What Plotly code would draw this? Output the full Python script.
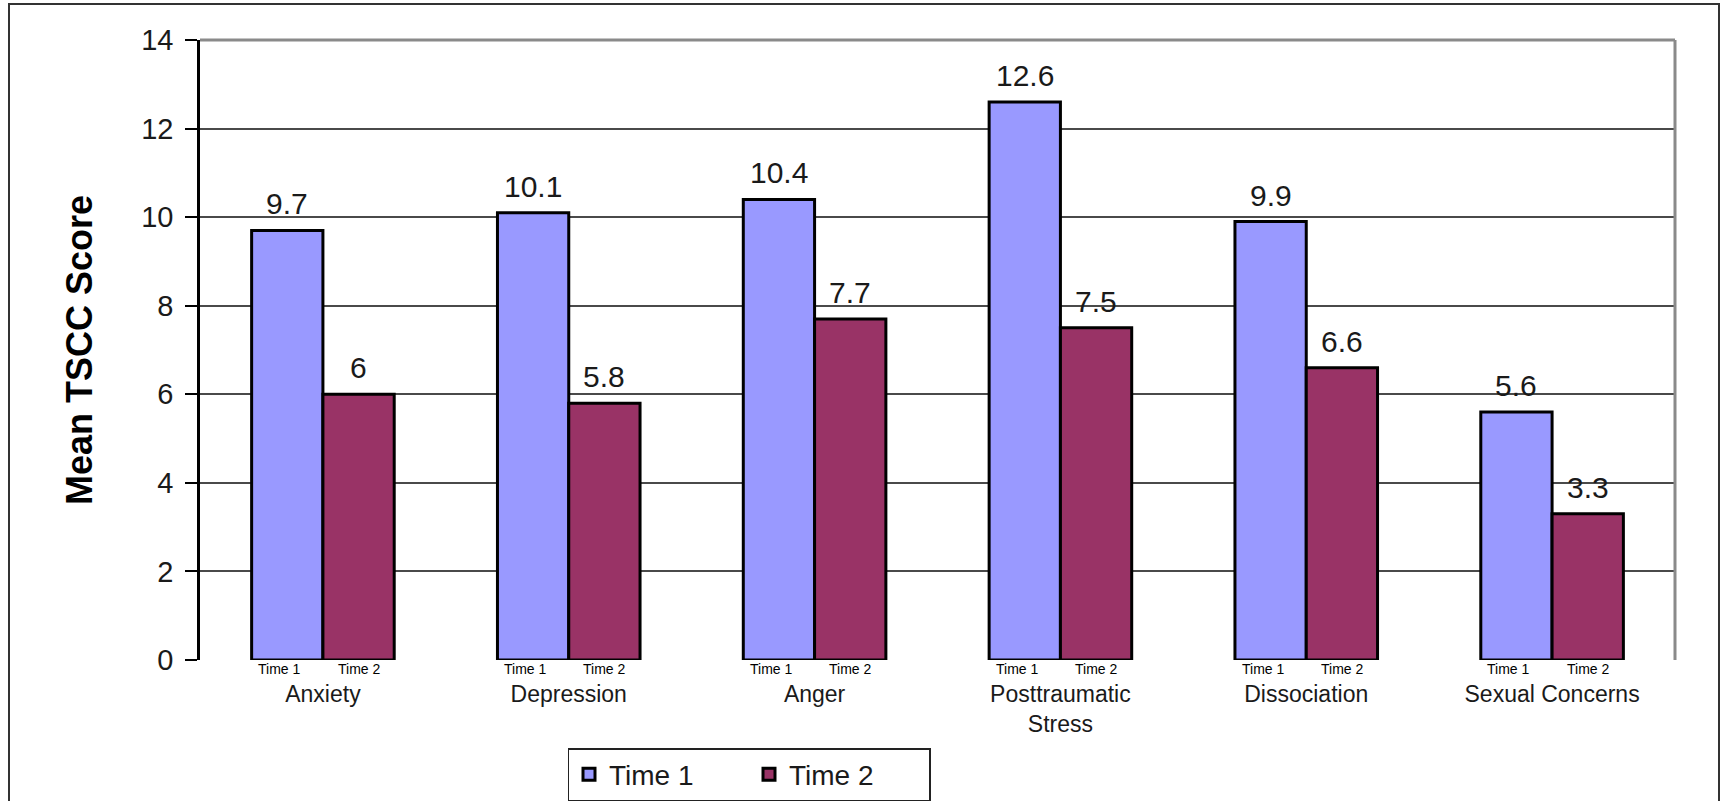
import plotly.graph_objects as go

categories = ["Anxiety", "Depression", "Anger", "Posttraumatic<br>Stress", "Dissociation", "Sexual Concerns"]
time1 = [9.7, 10.1, 10.4, 12.6, 9.9, 5.6]
time2 = [6.0, 5.8, 7.7, 7.5, 6.6, 3.3]
series_names = ["Time 1", "Time 2"]
y_ticks = [0, 2, 4, 6, 8, 10, 12, 14]

FONT = "Liberation Sans, Arial, sans-serif"
W, H = 1721, 801
ML, MR, MT, MB = 200, 46, 40, 141
BARGAP = 0.42
cat_px = (W - ML - MR) / len(categories)
half_shift = cat_px * (1 - BARGAP) / 4  # center offset of each bar within its group

fig = go.Figure()
colors = ["#9999FF", "#993366"]
for name, vals, col in zip(series_names, [time1, time2], colors):
    fig.add_trace(go.Bar(
        x=categories, y=vals, name=name,
        marker=dict(color=col, line=dict(color="black", width=3)),
        hoverinfo="x+y+name",
    ))

annotations = []
for i, cat in enumerate(categories):
    for j, (name, vals) in enumerate(zip(series_names, [time1, time2])):
        sh = -half_shift if j == 0 else half_shift
        v = vals[i]
        txt = f"{v:g}"
        annotations.append(dict(
            x=cat, y=v, xref="x", yref="y", text=txt, showarrow=False,
            xanchor="center", yanchor="bottom", xshift=sh, yshift=8,
            font=dict(family=FONT, size=30, color="#1a1a1a"),
        ))
        annotations.append(dict(
            x=cat, y=0, xref="x", yref="y", text=name, showarrow=False,
            xanchor="center", yanchor="top", xshift=sh - (8 if j == 0 else 0), yshift=1,
            font=dict(family=FONT, size=14, color="black"),
        ))

shapes = [
    # plot area border (top and right, gray)
    dict(type="line", xref="paper", yref="paper", x0=0, x1=1, y0=1, y1=1,
         line=dict(color="#8a8a8a", width=3)),
    dict(type="line", xref="paper", yref="paper", x0=1, x1=1, y0=0, y1=1,
         line=dict(color="#8a8a8a", width=3)),
    # outer chart border
    dict(type="rect", xref="paper", yref="paper",
         x0=(9 - ML) / (W - ML - MR), x1=(1719 - ML) / (W - ML - MR),
         y0=(H - MB - 815) / (H - MT - MB), y1=(H - MB - 4) / (H - MT - MB),
         line=dict(color="#333333", width=2), fillcolor="rgba(0,0,0,0)"),
]

fig.update_layout(
    width=W, height=H,
    margin=dict(l=ML, r=MR, t=MT, b=MB, pad=0, autoexpand=False),
    paper_bgcolor="white", plot_bgcolor="white",
    barmode="group", bargap=BARGAP, bargroupgap=0,
    font=dict(family=FONT, color="#1a1a1a"),
    showlegend=True,
    legend=dict(
        orientation="h", xref="container", yref="container",
        x=749 / W, xanchor="center", y=(H - 748) / H, yanchor="top",
        bordercolor="#222", borderwidth=1.5, bgcolor="white",
        font=dict(family=FONT, size=28, color="#1a1a1a"),
        itemwidth=30, tracegroupgap=0, entrywidth=135,
    ),
    annotations=annotations,
    shapes=shapes,
    xaxis=dict(
        type="category", range=[-0.5, len(categories) - 0.5],
        showline=False, showgrid=False, zeroline=False, automargin=False,
        ticks="", ticklabelstandoff=18,
        tickfont=dict(family=FONT, size=23, color="#1a1a1a"),
        fixedrange=True,
    ),
    yaxis=dict(
        range=[0, 14], tickvals=y_ticks, ticktext=[str(t) for t in y_ticks],
        showgrid=True, gridcolor="#4a4a4a", gridwidth=1.5,
        zeroline=False, automargin=False,
        showline=True, linecolor="black", linewidth=2.5,
        ticks="outside", ticklen=12, tickwidth=2, tickcolor="black",
        ticklabelstandoff=6,
        tickfont=dict(family=FONT, size=29, color="#1a1a1a"),
        title=dict(text="<b>Mean TSCC Score</b>", standoff=38,
                   font=dict(family=FONT, size=36, color="black")),
        fixedrange=True,
    ),
)

fig.write_html("out.html")
